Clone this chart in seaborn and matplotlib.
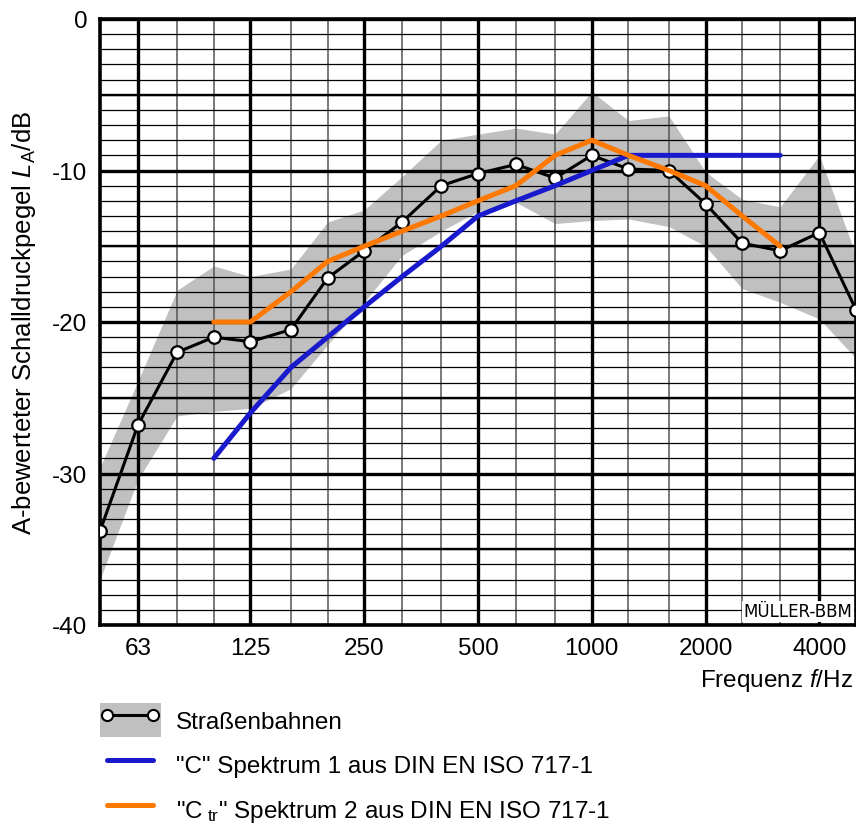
import numpy as np
import pandas as pd
import seaborn as sns
import matplotlib
matplotlib.use("Agg")
import matplotlib.pyplot as plt
from matplotlib.patches import Patch
from matplotlib.lines import Line2D
from matplotlib.legend_handler import HandlerTuple
from matplotlib.ticker import FixedLocator, NullFormatter, FixedFormatter
from matplotlib.transforms import blended_transform_factory

# ---------------- data ----------------
freqs = [50, 63, 80, 100, 125, 160, 200, 250, 315, 400, 500, 630, 800,
         1000, 1250, 1600, 2000, 2500, 3150, 4000, 5000]
tram = [-33.8, -26.8, -22.0, -21.0, -21.3, -20.5, -17.1, -15.3, -13.4, -11.0,
        -10.2, -9.6, -10.5, -9.0, -9.9, -10.0, -12.2, -14.8, -15.3, -14.1, -19.2]
band_hi = [-29.6, -23.9, -17.9, -16.3, -17.0, -16.5, -13.4, -12.6, -10.4, -8.0,
           -7.6, -7.2, -7.6, -4.8, -6.7, -6.4, -10.1, -11.9, -12.4, -9.0, -15.6]
band_lo = [-37.0, -30.4, -26.2, -25.9, -25.7, -24.4, -21.5, -18.7, -15.6, -14.0,
           -12.7, -12.1, -13.5, -13.3, -13.2, -13.7, -15.0, -17.8, -18.7, -19.8, -22.4]

iso_freqs = [100, 125, 160, 200, 250, 315, 400, 500, 630, 800, 1000, 1250,
             1600, 2000, 2500, 3150]
spec_c = [-29, -26, -23, -21, -19, -17, -15, -13, -12, -11, -10, -9, -9, -9, -9, -9]
spec_ctr = [-20, -20, -18, -16, -15, -14, -13, -12, -11, -9, -8, -9, -10, -11, -13, -15]

octave_ticks = [63, 125, 250, 500, 1000, 2000, 4000]
octave_labels = ["63", "125", "250", "500", "1000", "2000", "4000"]
y_ticks = [-40, -30, -20, -10, 0]
y_labels = ["-40", "-30", "-20", "-10", "0"]

labels = ["Straßenbahnen",
          "\"C\" Spektrum 1 aus DIN EN ISO 717-1",
          "\"C$_{\\mathrm{\\ tr}}$\" Spektrum 2 aus DIN EN ISO 717-1"]

# ---------------- style ----------------
sns.set_style("white")
plt.rcParams['font.family'] = ['Liberation Sans', 'DejaVu Sans']
plt.rcParams['mathtext.fontset'] = 'custom'
plt.rcParams['mathtext.rm'] = 'Liberation Sans'
plt.rcParams['mathtext.it'] = 'Liberation Sans:italic'
plt.rcParams['axes.unicode_minus'] = False
for k in ['text.color', 'axes.labelcolor', 'xtick.color', 'ytick.color']:
    plt.rcParams[k] = 'black'

BLUE = '#1a1acd'
ORANGE = '#ff7800'
GRAY = '#c0c0c0'
FS = 17.5

fig = plt.figure(figsize=(8.56, 8.29), dpi=100)
ax = fig.add_axes([100/856, 1-626/829, 756/856, 606/829])
ax.set_xscale('log')

df_tram = pd.DataFrame({'f': freqs, 'L': tram})
df_c = pd.DataFrame({'f': iso_freqs, 'L': spec_c})
df_ctr = pd.DataFrame({'f': iso_freqs, 'L': spec_ctr})

ax.fill_between(freqs, band_lo, band_hi, color=GRAY, lw=0, zorder=1)
sns.lineplot(data=df_tram, x='f', y='L', ax=ax, color='black', lw=2.2,
             marker='o', markersize=9, markerfacecolor='white',
             markeredgecolor='black', markeredgewidth=1.6, zorder=3,
             legend=False, errorbar=None)
sns.lineplot(data=df_c, x='f', y='L', ax=ax, color=BLUE, lw=3.6, zorder=4,
             legend=False, errorbar=None)
sns.lineplot(data=df_ctr, x='f', y='L', ax=ax, color=ORANGE, lw=3.6, zorder=5,
             legend=False, errorbar=None)

ax.set_xlim(50, 5000)
ax.set_ylim(-40, 0)

ax.xaxis.set_major_locator(FixedLocator(octave_ticks))
ax.xaxis.set_major_formatter(FixedFormatter(octave_labels))
ax.xaxis.set_minor_locator(FixedLocator(freqs))
ax.xaxis.set_minor_formatter(NullFormatter())
ax.yaxis.set_major_locator(FixedLocator(y_ticks))
ax.yaxis.set_major_formatter(FixedFormatter(y_labels))
ax.yaxis.set_minor_locator(FixedLocator(list(range(-40, 1))))

ax.set_axisbelow('line')
ax.grid(which='major', axis='x', color='black', lw=2.4)
ax.grid(which='minor', axis='x', color='#555555', lw=1.1)
ax.grid(which='major', axis='y', color='black', lw=2.4)
ax.grid(which='minor', axis='y', color='black', lw=0.9)
for v in [-5, -15, -25, -35]:
    ax.axhline(v, color='black', lw=1.7, zorder=1.6)

ax.tick_params(which='both', length=0, labelsize=FS, pad=9, colors='black')
for s in ax.spines.values():
    s.set_linewidth(2.6)
    s.set_color('black')

ax.set_xlabel('')
ax.set_ylabel('A-bewerteter Schalldruckpegel $L_{\\mathrm{A}}$/dB', fontsize=18.5)
ax.yaxis.set_label_coords(-0.082, 0.5)

fig.text(853/856, 1-681/829, 'Frequenz $f$/Hz', ha='right', va='center', fontsize=FS)

tr = blended_transform_factory(ax.transAxes, ax.transData)
ax.text(0.995, -39.1, 'MÜLLER-BBM', transform=tr, ha='right', va='center',
        fontsize=12, family='DejaVu Sans', zorder=6,
        bbox=dict(facecolor='white', edgecolor='none', pad=1.2))

h1 = (Patch(facecolor=GRAY, edgecolor='none'),
      Line2D([], [], color='black', lw=2.2, marker='o', ms=8,
             mfc='white', mec='black', mew=1.5))
h2 = Line2D([], [], color=BLUE, lw=3.6)
h3 = Line2D([], [], color=ORANGE, lw=3.6)
fig.legend([h1, h2, h3], labels, handler_map={tuple: HandlerTuple(ndivide=1, pad=0)},
           loc='upper left', bbox_to_anchor=(100/856, 1-704/829), frameon=False,
           fontsize=FS, handlelength=2.5, handleheight=1.78, handletextpad=0.62,
           labelspacing=0.43, borderpad=0, borderaxespad=0, numpoints=2)

fig.savefig('out.png', dpi=100)
